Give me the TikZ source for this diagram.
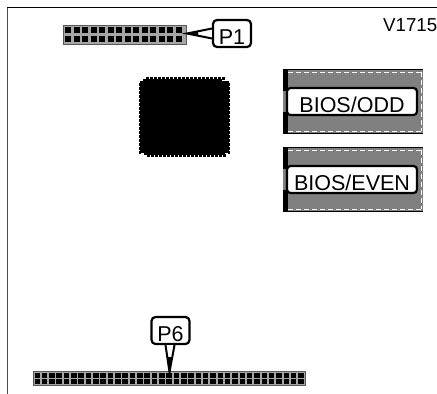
\documentclass[tikz,border=0pt]{standalone}
\usepackage{fontspec}
\setmainfont{Liberation Sans}
\usetikzlibrary{calc}
\tikzset{
  tag/.style={draw=black,line width=2.2pt,rounded corners=4pt,fill=white,inner sep=0pt,text height=24pt,text depth=3pt,font=\fontsize{21.5}{21.5}\selectfont},
  chiplabel/.style={draw=black,line width=2.2pt,rounded corners=3.5pt,fill=white,inner sep=0pt,text height=24pt,text depth=3pt,minimum width=130pt,minimum height=27pt,font=\fontsize{21.5}{21.5}\selectfont},
  pointer/.style={draw=black,fill=white,line width=2pt,miter limit=20},
  socket/.style={fill=black!50,draw=none},
  pin/.style={fill=black,draw=none},
  header/.style={fill=black!35,draw=black!65,line width=1pt,inner sep=0pt,anchor=north west},
  notch/.style={draw=white,line width=0.9pt,dash pattern=on 5pt off 3pt},
  socketedge/.style={draw=black,line width=1.6pt}
}
\begin{document}
\begin{tikzpicture}[x=1pt,y=-1pt]
  \useasboundingbox (0,0) rectangle (437,394);
  \fill[white] (0,0) rectangle (437,394);

  % board edge
  \draw[color=black!70,line width=1pt] (7,7) -- (7,394);
  \draw[color=black,line width=1pt] (7,7) -- (437,7);

  \node[anchor=base east,inner sep=0pt,font=\fontsize{18.7}{18.7}\selectfont] (version) at (437.5,31.5) {V1715};

  % P1
  \node[header,minimum width=123pt,minimum height=19pt] (pone) at (62.5,24.5) {};
  \foreach \i in {0,...,13} {
    \fill[pin] (65+\i*8.5,27) rectangle +(6,6.4);
    \fill[pin] (65+\i*8.5,35.8) rectangle +(6,6.4);
  }
  \node[tag,minimum width=38pt,minimum height=27pt] (ponetag) at (232,33.5) {P1};
  \coordinate (ponetip) at (187,33.5);
  \draw[pointer] ($(ponetag.west)+(0,-5)$) -- (ponetip) -- ($(ponetag.west)+(0,5)$);
  \fill[black] (ponetip) -- ($(ponetip)!0.45!($(ponetag.west)+(0,-5)$)$) -- ($(ponetip)!0.45!($(ponetag.west)+(0,5)$)$) -- cycle;

  % PLCC
  \fill[pin] (140,81) rectangle (229,153);
  \fill[pin] (143,79) rectangle (222,81);
  \fill[pin] (144,153) rectangle (225,155);
  \foreach \i in {0,...,19} {
    \fill[pin] (146+\i*4,77) rectangle +(3,3);
    \fill[pin] (147+\i*4,154) rectangle +(3,3);
  }
  \foreach \i in {0,...,17} {
    \fill[pin] (139,83+\i*4) rectangle +(2,3);
    \fill[pin] (228,83+\i*4) rectangle +(2,3);
  }

  % BIOS sockets
  \foreach \y/\name/\txt in {69/odd/{BIOS/ODD},147/even/{BIOS/EVEN}} {
    \fill[socket] (283,\y) rectangle (423,\y+65);
    \draw[socketedge] (283,\y+0.5) -- (423,\y+0.5);
    \draw[socketedge] (283,\y+64.5) -- (423,\y+64.5);
    \fill[pin] (282.5,\y) rectangle (288,\y+22);
    \fill[pin] (282.5,\y+43) rectangle (288,\y+65);
    \draw[notch] (288,\y+3) -- (423,\y+3);
    \draw[notch] (288,\y+62) -- (423,\y+62);
    \draw[notch] (421.5,\y+3) -- (421.5,\y+62);
    \node[chiplabel] (\name) at (352,\y+32.5) {\txt};
  }

  % P6
  \node[header,minimum width=272pt,minimum height=14.5pt] (psix) at (33,370.5) {};
  \foreach \i in {0,...,36} {
    \fill[pin] (34.5+\i*7.33,372.5) rectangle +(5.4,5);
    \fill[pin] (34.5+\i*7.33,379) rectangle +(5.4,5);
  }
  \node[tag,minimum width=38pt,minimum height=27pt] (psixtag) at (170.5,330.5) {P6};
  \coordinate (psixtip) at (169.5,372);
  \draw[pointer] ($(psixtag.south)+(-5,0)$) -- (psixtip) -- ($(psixtag.south)+(4,0)$);
  \fill[black] (psixtip) -- ($(psixtip)!0.55!($(psixtag.south)+(-5,0)$)$) -- ($(psixtip)!0.55!($(psixtag.south)+(4,0)$)$) -- cycle;
\end{tikzpicture}
\end{document}
